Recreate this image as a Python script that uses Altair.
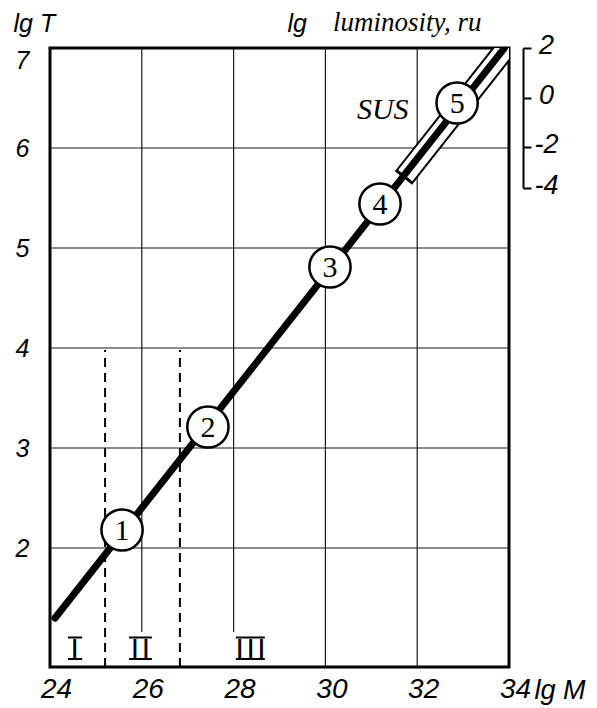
import altair as alt
import pandas as pd

# ---- axis ticks ----
x_ticks = [24, 26, 28, 30, 32, 34]
y_ticks = [2, 3, 4, 5, 6, 7]
lum_ticks = [2, 0, -2, -4]

# ---- grid ----
grid_h = [2, 3, 4, 5, 6]
grid_v = [26, 28, 30, 32]
grid_v_bottom = [1.16, 1.16, 0.81, 0.81]
grid_v_top = [7, 7, 7, 7]

# ---- dashed boundaries of regions I / II / III ----
bound_x = [25.2, 26.83]
bound_bottom = [0.81, 0.81]
bound_top = [3.98, 3.98]

# ---- evolutionary track (thick line) ----
track_lgM = [24.11, 33.9]
track_lgT = [1.30, 7.0]

# ---- SUS band (outline and inner part) ----
sus_lgM = [31.7, 34.4]
sus_lgT = [5.70, 7.27]
sus_in_lgM = [31.74, 34.4]
sus_in_lgT = [5.723, 7.27]

# ---- numbered stages ----
stage_lab = ["1", "2", "3", "4", "5"]
stage_lgM = [25.57, 27.44, 30.10, 31.19, 32.87]
stage_lgT = [2.18, 3.21, 4.81, 5.44, 6.45]

# ---- region labels (Roman numerals with bars) ----
region_lab = ["I", "I\u200aI", "I\u200aI\u200aI"]
region_lgM = [24.54, 25.97, 28.37]
region_base = [0.89, 0.89, 0.89]
region_bar_l = [24.39, 25.72, 28.05]
region_bar_r = [24.70, 26.22, 28.68]
region_bar_top = [1.105, 1.105, 1.105]

sus_lab = ["SUS"]
sus_lab_lgM = [31.25]
sus_lab_lgT = [6.38]

W, H = 459, 619
SANS = "Liberation Sans"
SERIF = "Liberation Serif"

XS = alt.Scale(domain=[24, 34], nice=False, zero=False)
YS = alt.Scale(domain=[0.81, 7], nice=False, zero=False)

x_axis = alt.Axis(
    values=x_ticks, grid=False, ticks=False, domain=False, format="d",
    labelFont=SANS, labelFontStyle="italic", labelFontSize=28, labelColor="black",
    labelPadding=8, labelOffset=6, labelFlush=False,
    title="lg M", titleFont=SANS, titleFontStyle="italic", titleFontWeight="normal",
    titleFontSize=27, titleColor="black", titleX=484, titleY=31,
    titleAlign="left", titleBaseline="alphabetic", titleAngle=0,
)
y_axis = alt.Axis(
    values=y_ticks, grid=False, ticks=False, domain=False, format="d",
    labelFont=SANS, labelFontStyle="italic", labelFontSize=25, labelColor="black",
    labelPadding=21, labelFlush=True,
    title="lg T", titleFont=SANS, titleFontStyle="italic", titleFontWeight="normal",
    titleFontSize=25, titleColor="black", titleX=-37, titleY=-17,
    titleAlign="left", titleBaseline="alphabetic", titleAngle=0,
)
lum_axis = alt.Axis(
    orient="right", offset=14, values=lum_ticks, grid=False,
    domainColor="black", domainWidth=2, tickColor="black", tickWidth=2, tickSize=8,
    labelFont=SANS, labelFontStyle="italic", labelFontSize=27, labelColor="black",
    labelAlign="center", labelPadding=15, labelOffset=-3,
    labelExpr="datum.value < 0 ? '-' + abs(datum.value) : '' + datum.value",
    title="lg", titleFont=SANS, titleFontStyle="italic", titleFontWeight="normal",
    titleFontSize=25, titleColor="black", titleX=-236, titleY=-17,
    titleAlign="left", titleBaseline="alphabetic", titleAngle=0,
)


def X(f):
    return alt.X(f, type="quantitative", scale=XS, axis=x_axis)


def Y(f):
    return alt.Y(f, type="quantitative", scale=YS, axis=y_axis)


df_gh = pd.DataFrame({"y": grid_h})
df_gv = pd.DataFrame({"x": grid_v, "yb": grid_v_bottom, "yt": grid_v_top})
df_b = pd.DataFrame({"x": bound_x, "yb": bound_bottom, "yt": bound_top})
df_track = pd.DataFrame({"x": track_lgM, "y": track_lgT})
df_sus = pd.DataFrame({"x": sus_lgM, "y": sus_lgT})
df_sus_in = pd.DataFrame({"x": sus_in_lgM, "y": sus_in_lgT})
df_st = pd.DataFrame({"x": stage_lgM, "y": stage_lgT, "t": stage_lab})
df_reg = pd.DataFrame({"x": region_lgM, "y": region_base, "t": region_lab})
df_bar = pd.DataFrame({
    "x": region_bar_l + region_bar_l,
    "x2": region_bar_r + region_bar_r,
    "y": region_base + region_bar_top,
})
df_suslab = pd.DataFrame({"x": sus_lab_lgM, "y": sus_lab_lgT, "t": sus_lab})

gh = alt.Chart(df_gh).mark_rule(color="#1a1a1a", strokeWidth=1.2).encode(
    y=Y("y"), x=alt.value(0), x2=alt.value(W)
)
gv = alt.Chart(df_gv).mark_rule(color="#1a1a1a", strokeWidth=1.2).encode(
    x=X("x"), y=Y("yb"), y2=alt.Y2("yt")
)
bounds = alt.Chart(df_b).mark_rule(color="black", strokeWidth=2, strokeDash=[9, 6]).encode(
    x=X("x"), y=Y("yb"), y2=alt.Y2("yt")
)
band_outer = alt.Chart(df_sus).mark_line(color="black", strokeWidth=22, strokeCap="butt", clip=True).encode(
    x=X("x"), y=Y("y")
)
band_inner = alt.Chart(df_sus_in).mark_line(color="white", strokeWidth=18, strokeCap="butt", clip=True).encode(
    x=X("x"), y=Y("y")
)
track = alt.Chart(df_track).mark_line(color="black", strokeWidth=7, strokeCap="round", clip=True).encode(
    x=X("x"), y=Y("y")
)
circles = alt.Chart(df_st).mark_point(
    shape="circle", filled=True, fill="white", stroke="black", strokeWidth=2.5, size=1700, opacity=1
).encode(x=X("x"), y=Y("y"))
nums = alt.Chart(df_st).mark_text(font=SERIF, fontSize=30, baseline="middle", dy=1, color="black").encode(
    x=X("x"), y=Y("y"), text="t:N"
)
regs = alt.Chart(df_reg).mark_text(font=SANS, fontSize=30, baseline="alphabetic", color="black").encode(
    x=X("x"), y=Y("y"), text="t:N"
)
bars = alt.Chart(df_bar).mark_rule(color="black", strokeWidth=2).encode(
    x=X("x"), x2=alt.X2("x2"), y=Y("y")
)
suslab = alt.Chart(df_suslab).mark_text(font=SERIF, fontStyle="italic", fontSize=30, baseline="middle", color="black").encode(
    x=X("x"), y=Y("y"), text="t:N"
)

main = alt.layer(gh, gv, bounds, band_outer, band_inner, track, circles, nums, regs, bars, suslab)

lum = alt.Chart(pd.DataFrame({"lum": lum_ticks})).mark_point(opacity=0).encode(
    y=alt.Y("lum:Q", scale=alt.Scale(domain=[-4, -2, 0, 2], range=[140, 99, 50, 0], nice=False, zero=False),
            axis=lum_axis)
)

chart = alt.layer(main, lum).resolve_scale(y="independent").properties(
    width=W, height=H,
    autosize=alt.AutoSizeParams(type="none"),
    padding={"left": 42, "top": 40, "right": 80, "bottom": 40},
    background="white",
    title=alt.TitleParams(
        "luminosity, ru", font=SERIF, fontStyle="italic", fontWeight="normal", fontSize=27,
        color="black", anchor="start", frame="group", dx=283, dy=47, baseline="alphabetic", offset=0,
    ),
).configure_view(stroke="black", strokeWidth=3)

chart.save("out.html", embed_options={"renderer": "svg", "actions": False})
